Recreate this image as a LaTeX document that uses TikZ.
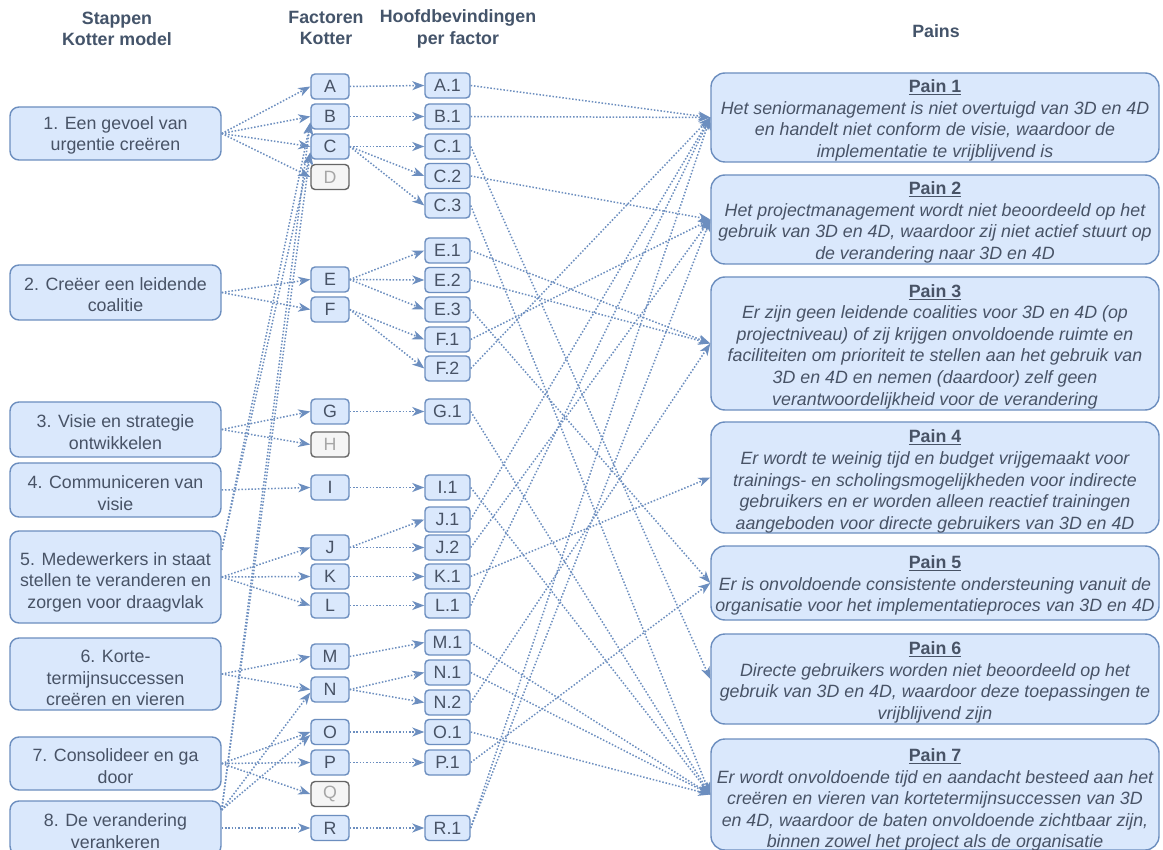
\documentclass[tikz,border=0pt]{standalone}
\usepackage{fontspec}
\setmainfont{Liberation Sans}
\usetikzlibrary{arrows.meta}
\definecolor{boxfill}{HTML}{DAE8FC}
\definecolor{boxline}{HTML}{6C8EBF}
\definecolor{txt}{HTML}{485366}
\definecolor{hdr}{HTML}{44546A}
\definecolor{grayfill}{HTML}{F5F5F5}
\definecolor{grayline}{HTML}{666666}
\definecolor{graytxt}{HTML}{A6A6A6}
\newcommand\bodyfont{\fontsize{17.8}{21.6}\selectfont}
\newcommand\painhead[1]{\textbf{\upshape\underline{#1}}}
\tikzset{
  stepbox/.style={draw=boxline, fill=boxfill, line width=1.4pt, rounded corners=9pt,
    minimum width=211pt, inner sep=0pt},
  factbox/.style={draw=boxline, fill=boxfill, line width=1.4pt, rounded corners=4pt,
    minimum width=38pt, minimum height=25pt, inner sep=0pt, font=\bodyfont, text=txt},
  greybox/.style={factbox, draw=grayline, fill=grayfill, text=graytxt},
  findbox/.style={factbox, minimum width=45pt},
  painbox/.style={draw=boxline, fill=boxfill, line width=1.4pt, rounded corners=14pt,
    minimum width=448pt, inner sep=0pt},
  boxtext/.style={align=center, font=\bodyfont, text=txt, inner sep=0pt},
  paintext/.style={boxtext, font=\bodyfont\itshape},
  hdrtext/.style={align=center, font=\bodyfont\bfseries, text=hdr, inner sep=0pt},
  conn/.style={draw=boxline, line width=1.5pt, dash pattern=on 1.5pt off 1.8pt,
    -{Stealth[length=12pt,width=9pt,inset=3.5pt]}}
}
\begin{document}
\begin{tikzpicture}[x=1pt,y=-1pt]
\fill[white] (0,0) rectangle (1163,850);
\useasboundingbox (0,0) rectangle (1163,850);

% column headers
\node[hdrtext] (hStep) at (117,29) {Stappen\\Kotter model};
\node[hdrtext] (hFac) at (326,28) {Factoren\\Kotter};
\node[hdrtext] (hFind) at (458,29) {Hoofdbevindingen\\per factor};
\node[hdrtext] (hPain) at (936,31) {Pains};

% Kotter steps
\node[stepbox, minimum height=53pt] (s1) at (115.5,133.5) {};
\node[boxtext] (s1t) at (115.5,135.5) {1. Een gevoel van\\urgentie creëren};
\node[stepbox, minimum height=55pt] (s2) at (115.5,292.5) {};
\node[boxtext] (s2t) at (115.5,294.5) {2. Creëer een leidende\\coalitie};
\node[stepbox, minimum height=55pt] (s3) at (115.5,429.5) {};
\node[boxtext] (s3t) at (115.5,432) {3. Visie en strategie\\ontwikkelen};
\node[stepbox, minimum height=54pt] (s4) at (115.5,490) {};
\node[boxtext] (s4t) at (115.5,493) {4. Communiceren van\\visie};
\node[stepbox, minimum height=92pt] (s5) at (115.5,577) {};
\node[boxtext] (s5t) at (115.5,582) {5. Medewerkers in staat\\stellen te veranderen en\\zorgen voor draagvlak};
\node[stepbox, minimum height=72pt] (s6) at (115.5,674) {};
\node[boxtext] (s6t) at (115.5,678) {6. Korte-\\termijnsuccessen\\creëren en vieren};
\node[stepbox, minimum height=53pt] (s7) at (115.5,763.5) {};
\node[boxtext] (s7t) at (115.5,766) {7. Consolideer en ga\\door};
\node[stepbox, minimum height=54pt] (s8) at (115.5,828) {};
\node[boxtext] (s8t) at (115.5,831) {8. De verandering\\verankeren};

% Kotter factors
\node[factbox] (fA) at (330,86.5) {A};
\node[factbox] (fB) at (330,116.5) {B};
\node[factbox] (fC) at (330,146.5) {C};
\node[greybox] (fD) at (330,177) {D};
\node[factbox] (fE) at (330,279.5) {E};
\node[factbox] (fF) at (330,309.5) {F};
\node[factbox] (fG) at (330,411.5) {G};
\node[greybox] (fH) at (330,444.5) {H};
\node[factbox] (fI) at (330,487.5) {I};
\node[factbox] (fJ) at (330,547.5) {J};
\node[factbox] (fK) at (330,576.5) {K};
\node[factbox] (fL) at (330,605.5) {L};
\node[factbox] (fM) at (330,656.5) {M};
\node[factbox] (fN) at (330,689.5) {N};
\node[factbox] (fO) at (330,732) {O};
\node[factbox] (fP) at (330,762.5) {P};
\node[greybox] (fQ) at (330,794) {Q};
\node[factbox] (fR) at (330,828) {R};

% main findings per factor
\node[findbox] (gA1) at (447.5,85.5) {A.1};
\node[findbox] (gB1) at (447.5,116.5) {B.1};
\node[findbox] (gC1) at (447.5,146.5) {C.1};
\node[findbox] (gC2) at (447.5,176) {C.2};
\node[findbox] (gC3) at (447.5,205.5) {C.3};
\node[findbox] (gE1) at (447.5,250.5) {E.1};
\node[findbox] (gE2) at (447.5,280) {E.2};
\node[findbox] (gE3) at (447.5,309.5) {E.3};
\node[findbox] (gF1) at (447.5,339.5) {F.1};
\node[findbox] (gF2) at (447.5,368.5) {F.2};
\node[findbox] (gG1) at (447.5,411.5) {G.1};
\node[findbox] (gI1) at (447.5,487.5) {I.1};
\node[findbox] (gJ1) at (447.5,519.5) {J.1};
\node[findbox] (gJ2) at (447.5,547.5) {J.2};
\node[findbox] (gK1) at (447.5,576.5) {K.1};
\node[findbox] (gL1) at (447.5,605.5) {L.1};
\node[findbox] (gM1) at (447.5,642.5) {M.1};
\node[findbox] (gN1) at (447.5,672.5) {N.1};
\node[findbox] (gN2) at (447.5,702.5) {N.2};
\node[findbox] (gO1) at (447.5,732) {O.1};
\node[findbox] (gP1) at (447.5,762.5) {P.1};
\node[findbox] (gR1) at (447.5,828) {R.1};

% pains
\node[painbox, minimum height=89pt] (p1) at (935,117.5) {};
\node[paintext] (p1t) at (935,120.5) {\painhead{Pain 1}\\Het seniormanagement is niet overtuigd van 3D en 4D\\en handelt niet conform de visie, waardoor de\\implementatie te vrijblijvend is};
\node[painbox, minimum height=89pt] (p2) at (935,219.5) {};
\node[paintext] (p2t) at (935,222.5) {\painhead{Pain 2}\\Het projectmanagement wordt niet beoordeeld op het\\gebruik van 3D en 4D, waardoor zij niet actief stuurt op\\de verandering naar 3D en 4D};
\node[painbox, minimum height=133pt] (p3) at (935,343.5) {};
\node[paintext] (p3t) at (935,346.5) {\painhead{Pain 3}\\Er zijn geen leidende coalities voor 3D en 4D (op\\projectniveau) of zij krijgen onvoldoende ruimte en\\faciliteiten om prioriteit te stellen aan het gebruik van\\3D en 4D en nemen (daardoor) zelf geen\\verantwoordelijkheid voor de verandering};
\node[painbox, minimum height=111pt] (p4) at (935,477.5) {};
\node[paintext] (p4t) at (935,481.5) {\painhead{Pain 4}\\Er wordt te weinig tijd en budget vrijgemaakt voor\\trainings- en scholingsmogelijkheden voor indirecte\\gebruikers en er worden alleen reactief trainingen\\aangeboden voor directe gebruikers van 3D en 4D};
\node[painbox, minimum height=74pt] (p5) at (935,583) {};
\node[paintext] (p5t) at (935,585.5) {\painhead{Pain 5}\\Er is onvoldoende consistente ondersteuning vanuit de\\organisatie voor het implementatieproces van 3D en 4D};
\node[painbox, minimum height=90pt] (p6) at (935,679) {};
\node[paintext] (p6t) at (935,682.5) {\painhead{Pain 6}\\Directe gebruikers worden niet beoordeeld op het\\gebruik van 3D en 4D, waardoor deze toepassingen te\\vrijblijvend zijn};
\node[painbox, minimum height=111pt] (p7) at (935,794.5) {};
\node[paintext] (p7t) at (935,800) {\painhead{Pain 7}\\Er wordt onvoldoende tijd en aandacht besteed aan het\\creëren en vieren van kortetermijnsuccessen van 3D\\en 4D, waardoor de baten onvoldoende zichtbaar zijn,\\binnen zowel het project als de organisatie};

% exit points near the upper right corners of steps 5 and 8
\coordinate (s5c) at ([yshift=27pt]s5.east);
\coordinate (s8c) at ([yshift=18pt]s8.east);

% steps -> factors
\foreach \f in {A,B,C,D} \draw[conn] (s1.east) -- (f\f.west);
\foreach \f in {E,F} \draw[conn] (s2.east) -- (f\f.west);
\foreach \f in {G,H} \draw[conn] (s3.east) -- (f\f.west);
\draw[conn] (s4.east) -- (fI.west);
\foreach \f in {J,K,L} \draw[conn] (s5.east) -- (f\f.west);
\foreach \f in {M,N} \draw[conn] (s6.east) -- (f\f.west);
\foreach \f in {O,P,Q} \draw[conn] (s7.east) -- (f\f.west);
\draw[conn] (s8.east) -- (fR.west);
\draw[conn] (s8c) -- ([yshift=-3pt]fN.west);
\draw[conn] (s8c) -- ([yshift=-3pt]fO.west);
\foreach \f in {B,C} {
  \draw[conn] (s5c) -- ([yshift=-6pt]f\f.west);
  \draw[conn] (s8c) -- ([yshift=-6pt]f\f.west);
}

% factors -> findings
\draw[conn] (fA.east) -- (gA1.west);
\draw[conn] (fB.east) -- (gB1.west);
\foreach \g in {C1,C2,C3} \draw[conn] (fC.east) -- (g\g.west);
\foreach \g in {E1,E2,E3} \draw[conn] (fE.east) -- (g\g.west);
\foreach \g in {F1,F2} \draw[conn] (fF.east) -- (g\g.west);
\draw[conn] (fG.east) -- (gG1.west);
\draw[conn] (fI.east) -- (gI1.west);
\foreach \g in {J1,J2} \draw[conn] (fJ.east) -- (g\g.west);
\draw[conn] (fK.east) -- (gK1.west);
\draw[conn] (fL.east) -- (gL1.west);
\draw[conn] (fM.east) -- (gM1.west);
\foreach \g in {N1,N2} \draw[conn] (fN.east) -- (g\g.west);
\draw[conn] (fO.east) -- (gO1.west);
\draw[conn] (fP.east) -- (gP1.west);
\draw[conn] (fR.east) -- (gR1.west);

% findings -> pains
\foreach \g in {A1,B1,F2,J1,L1,R1} \draw[conn] (g\g.east) -- (p1.west);
\foreach \g in {C2,F1,J2,R1} \draw[conn] (g\g.east) -- (p2.west);
\foreach \g in {E1,E2,N2} \draw[conn] (g\g.east) -- (p3.west);
\draw[conn] (gK1.east) -- (p4.west);
\foreach \g in {E3,P1} \draw[conn] (g\g.east) -- (p5.west);
\draw[conn] (gC1.east) -- (p6.west);
\foreach \g in {C3,G1,I1,M1,N1,O1} \draw[conn] (g\g.east) -- (p7.west);
\end{tikzpicture}
\end{document}
